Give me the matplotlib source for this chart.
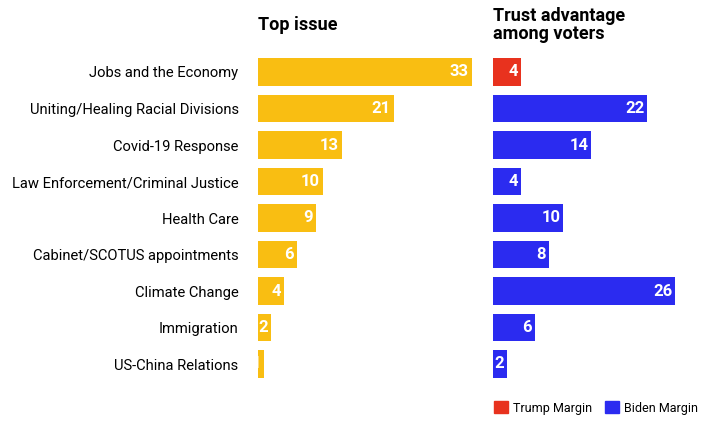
import matplotlib.pyplot as plt
from matplotlib.patches import Patch

issues = ["Jobs and the Economy", "Uniting/Healing Racial Divisions", "Covid-19 Response",
          "Law Enforcement/Criminal Justice", "Health Care", "Cabinet/SCOTUS appointments",
          "Climate Change", "Immigration", "US-China Relations"]
top_issue = [33, 21, 13, 10, 9, 6, 4, 2, 1]
trust_margin = [4, 22, 14, 4, 10, 8, 26, 6, 2]
trust_side = ["Trump", "Biden", "Biden", "Biden", "Biden", "Biden", "Biden", "Biden", "Biden"]

yellow = "#F9BE12"
blue = "#2B2BF0"
red = "#E8321E"

plt.rcParams['font.family'] = ['Roboto', 'DejaVu Sans']
fig = plt.figure(figsize=(7.18, 4.30), dpi=100)

bottom = 1 - 382.25 / 430
height = 328.5 / 430
ax1 = fig.add_axes([258 / 718, bottom, 214 / 718, height])
ax2 = fig.add_axes([493 / 718, bottom, 182 / 718, height])

ys = list(range(len(issues)))
ax1.barh(ys, top_issue, height=0.76, color=yellow)
ax1.set_xlim(0, 33)
for y, v in zip(ys, top_issue):
    ax1.text(v - 0.5, y, str(v), color="white", fontsize=12, fontweight="bold",
             ha="right", va="center")
ax1.set_yticks(ys)
ax1.set_yticklabels(issues, fontsize=10.6)
ax1.tick_params(axis="y", length=0, pad=14)

cols = [red if s == "Trump" else blue for s in trust_side]
ax2.barh(ys, trust_margin, height=0.76, color=cols)
ax2.set_xlim(0, 26)
for y, v in zip(ys, trust_margin):
    ax2.text(v - 0.4, y, str(v), color="white", fontsize=12, fontweight="bold",
             ha="right", va="center")
ax2.set_yticks([])

for ax in (ax1, ax2):
    ax.set_ylim(8.5, -0.5)
    ax.set_xticks([])
    for s in ax.spines.values():
        s.set_visible(False)

fig.text(258 / 718, 1 - 25 / 430, "Top issue", fontsize=13, fontweight="bold", va="center")
fig.text(493 / 718, 1 - 25 / 430, "Trust advantage\namong voters", fontsize=13,
         fontweight="bold", va="center", linespacing=0.95)

handles = [Patch(color=red, label="Trump Margin"), Patch(color=blue, label="Biden Margin")]
fig.legend(handles=handles, loc="center", bbox_to_anchor=(596 / 718, 1 - 408 / 430), ncol=2,
           frameon=False, fontsize=9, handlelength=1.1, handleheight=1.1, columnspacing=1.0,
           handletextpad=0.4)

fig.savefig("out.png", dpi=100)
